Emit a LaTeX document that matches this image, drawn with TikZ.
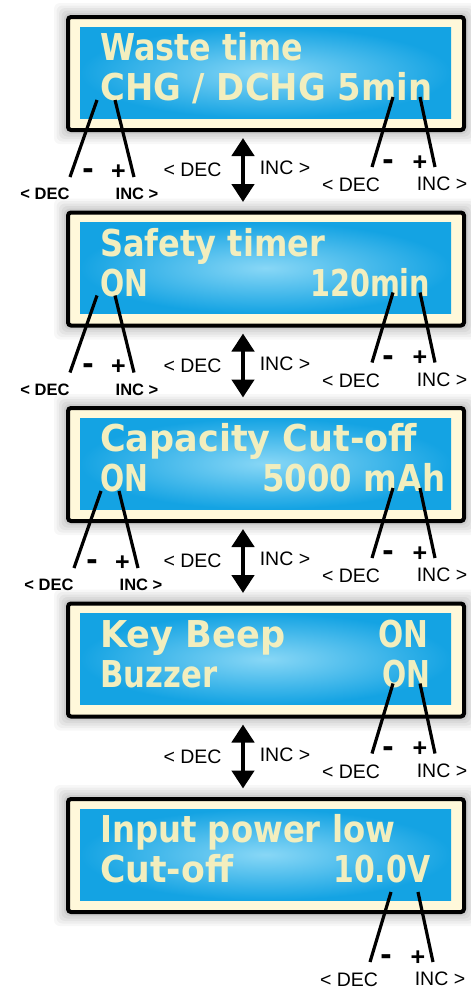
\documentclass[tikz,border=0pt]{standalone}
\usepackage{fontspec}
\usepackage{graphicx}
\setmainfont{Liberation Sans}
\newfontfamily\lcdfont{DejaVu Sans}
\usetikzlibrary{arrows.meta}
\definecolor{lcdblue}{HTML}{14A3E3}
\definecolor{lcdlight}{HTML}{88D7F6}
\definecolor{lcdtext}{HTML}{F2EEBE}
\definecolor{bezel}{HTML}{FFF8DA}
\tikzset{
  lcd/.style={inner sep=0pt, anchor=base west, text=lcdtext, font=\lcdfont\bfseries\fontsize{37}{37}\selectfont},
  lead/.style={line width=3.2pt},
  sign/.style={inner sep=0pt, anchor=base, font=\bfseries\fontsize{34}{34}\selectfont},
  plussign/.style={inner sep=0pt, anchor=base, font=\bfseries\fontsize{25}{25}\selectfont},
  smalllbl/.style={inner sep=0pt, font=\bfseries\fontsize{16.5}{16.5}\selectfont},
  biglbl/.style={inner sep=0pt, font=\fontsize{19.5}{19.5}\selectfont},
  nav/.style={line width=4.5pt, {Triangle[width=22pt,length=18pt]}-{Triangle[width=22pt,length=18pt]}},
  lcdframe/.style={draw=black, line width=4pt, fill=bezel, rounded corners=3pt, inner sep=0pt, minimum width=396pt, minimum height=113pt},
  lcdscreen/.style={inner color=lcdlight, outer color=lcdblue, inner sep=0pt, minimum width=371pt, minimum height=91pt},
}
\newcommand\panelbase{%
  \foreach \sd/\so in {12/0.03,9.5/0.035,7/0.04,4.5/0.045,2/0.05}{%
    \fill[black,opacity=\so,rounded corners=6pt] (66-\sd,-\sd) rectangle (466+\sd,117+\sd);}
  \node[lcdframe] (frame) at (266,58.5) {};
  \node[lcdscreen] (scr) at (265.5,57.5) {};
}
\newcommand\leftpair{%
  \coordinate (la1) at (97,85); \coordinate (la2) at (70,162);
  \coordinate (lb1) at (115,85); \coordinate (lb2) at (134,162);
  \draw[lead] (la1) -- (la2);
  \draw[lead] (lb1) -- (lb2);
  \node[sign] (lm) at (88,164) {-};
  \node[plussign] (lp) at (118.5,164) {+};
  \node[smalllbl] (ld) at (45,179) {< DEC};
  \node[smalllbl] (li) at (137,179) {INC >};
}
\newcommand\rightpair{%
  \coordinate (ra1) at (393,82); \coordinate (ra2) at (372,152);
  \coordinate (rb1) at (420,82); \coordinate (rb2) at (435,152);
  \draw[lead] (ra1) -- (ra2);
  \draw[lead] (rb1) -- (rb2);
  \node[sign] (rm) at (388,155.5) {-};
  \node[plussign] (rp) at (420,155) {+};
  \node[biglbl] (rd) at (351,170) {< DEC};
  \node[biglbl] (ri) at (442,169) {INC >};
}
\newcommand\midarrow{%
  \coordinate (aT) at (243,123); \coordinate (aB) at (243,187);
  \draw[nav] (aT) -- (aB);
  \node[biglbl] (md) at (192.5,155) {< DEC};
  \node[biglbl] (mi) at (285,153) {INC >};
}
\begin{document}
\begin{tikzpicture}[x=1pt,y=-1pt]
\useasboundingbox (0,0) rectangle (471,991);
\fill[white] (0,0) rectangle (471,991);

\begin{scope}[shift={(0,15)}, name prefix=p1-]
  \panelbase
  \node[lcd] (l1) at (100,45.5) {\resizebox{203pt}{\height}{Waste time}};
  \node[lcd] (l2) at (100,85.5) {\resizebox{332pt}{\height}{CHG / DCHG 5min}};
  \leftpair
  \rightpair
  \midarrow
\end{scope}

\begin{scope}[shift={(0,210.5)}, name prefix=p2-]
  \panelbase
  \node[lcd] (l1) at (100,45.5) {\resizebox{225pt}{\height}{Safety timer}};
  \node[lcd] (l2) at (100,85.5) {\resizebox{48pt}{\height}{ON}};
  \node[lcd] (l3) at (310,85.5) {\resizebox{120pt}{\height}{120min}};
  \leftpair
  \rightpair
  \midarrow
\end{scope}

\begin{scope}[shift={(0,406)}, name prefix=p3-]
  \panelbase
  \node[lcd] (l1) at (100,45.5) {\resizebox{317pt}{\height}{Capacity Cut-off}};
  \node[lcd] (l2) at (100,85.5) {\resizebox{48pt}{\height}{ON}};
  \node[lcd] (l3) at (262,85.5) {\resizebox{183pt}{\height}{5000 mAh}};
  \begin{scope}[xshift=4pt]
    \leftpair
  \end{scope}
  \rightpair
  \midarrow
\end{scope}

\begin{scope}[shift={(0,601.5)}, name prefix=p4-]
  \panelbase
  \node[lcd] (l1) at (100,45.5) {\resizebox{185pt}{\height}{Key Beep}};
  \node[lcd] (l2) at (378,45.5) {\resizebox{50pt}{\height}{ON}};
  \node[lcd] (l3) at (100,85.5) {\resizebox{117pt}{\height}{Buzzer}};
  \node[lcd] (l4) at (382,85.5) {\resizebox{48pt}{\height}{ON}};
  \rightpair
  \midarrow
\end{scope}

\begin{scope}[shift={(0,797)}, name prefix=p5-]
  \panelbase
  \node[lcd] (l1) at (100,45.5) {\resizebox{295pt}{\height}{Input power low}};
  \node[lcd] (l2) at (100,85.5) {\resizebox{133pt}{\height}{Cut-off}};
  \node[lcd] (l3) at (333,85.5) {\resizebox{97pt}{\height}{10.0V}};
  \begin{scope}[shift={(-2,13)}]
    \rightpair
  \end{scope}
\end{scope}
\end{tikzpicture}
\end{document}
